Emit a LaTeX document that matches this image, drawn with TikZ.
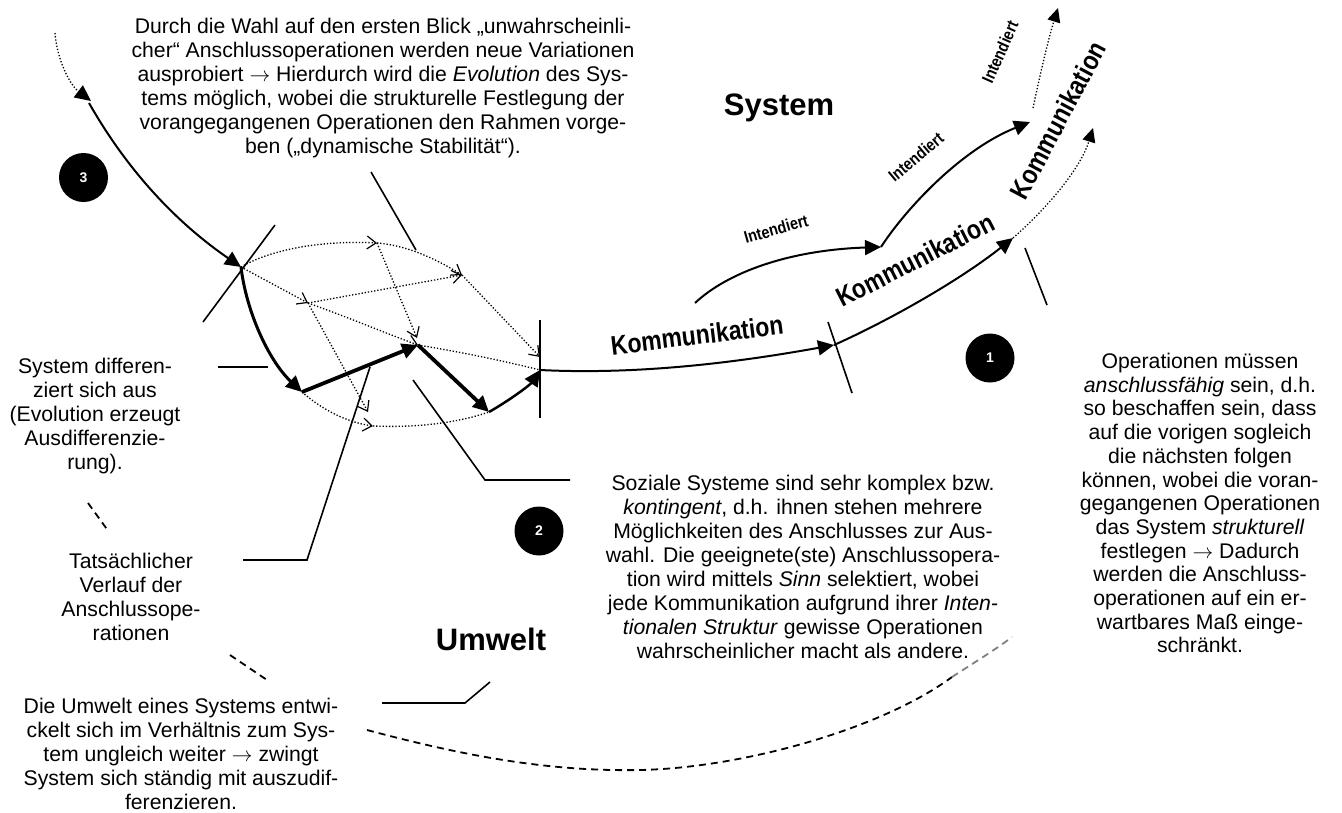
\documentclass[tikz,border=0pt]{standalone}
\usepackage{fontspec}
\setmainfont{Liberation Sans}
\newcommand\myarrow{$\rightarrow$}
\usetikzlibrary{arrows.meta}
\begin{document}
\begin{tikzpicture}[x=1pt,y=-1pt,
  txt/.style={align=center, inner sep=0pt, anchor=north, font=\fontsize{21.2}{24}\selectfont},
  lead/.style={line width=1.6pt},
  dotl/.style={line width=1.3pt, dash pattern=on 1.3pt off 1.9pt},
  dashl/.style={line width=1.8pt, dash pattern=on 7pt off 5pt},
  thk/.style={line width=3.8pt},
  fa/.style={-{Triangle[length=16pt,width=15pt]}},
  fas/.style={-{Triangle[length=14pt,width=13pt]}},
  oa/.style={-{Straight Barb[length=9pt,width=13pt,line width=1.2pt]}},
  num/.style={circle, fill=black, minimum size=49pt, inner sep=0pt, text=white, font=\fontsize{14}{14}\selectfont\bfseries},
  kom/.style={font=\fontsize{27}{27}\selectfont\bfseries, inner sep=0pt},
  intd/.style={font=\fontsize{17}{17}\selectfont\bfseries, inner sep=0pt},
  big/.style={font=\fontsize{31}{31}\selectfont\bfseries, inner sep=0pt, anchor=base}
]
\useasboundingbox[fill=white] (0,0) rectangle (1342,812);

% ---------- coordinates of the network ----------
\coordinate (TL) at (55,33);
\coordinate (TLe) at (91,101);
\coordinate (TLs) at (89,103);
\coordinate (A) at (241,267);
\coordinate (T1) at (377,243);
\coordinate (T2) at (462,275);
\coordinate (E) at (540,370);
\coordinate (Etop) at (540,357);
\coordinate (M1) at (308,303);
\coordinate (C) at (418,345);
\coordinate (Ctop) at (417,338);
\coordinate (D1) at (302,392);
\coordinate (D3) at (373,426);
\coordinate (D2) at (489,412);
\coordinate (Mdown) at (368,412);
\coordinate (K1) at (834,345);
\coordinate (K2) at (1013,238);
\coordinate (Ktop) at (1093,128);
\coordinate (Is) at (695,303);
\coordinate (I1) at (881,247);
\coordinate (I2) at (1030,122);
\coordinate (I3s) at (1033,108);
\coordinate (I3e) at (1058,8);

% ---------- ticks ----------
\coordinate (tA1) at (275,225); \coordinate (tA2) at (203,322);
\coordinate (tE1) at (540,320); \coordinate (tE2) at (540,418);
\coordinate (tK1) at (828,322); \coordinate (tK2) at (852,393);
\draw[lead] (tA1) -- (tA2);
\draw[lead] (tE1) -- (tE2);
\draw[lead] (tK1) -- (tK2);

% ---------- dotted possibilities ----------
\draw[dotl,oa] (A) .. controls (270,250) and (320,240) .. (T1);
\draw[dotl,oa] (T1) .. controls (405,245) and (435,258) .. (T2);
\draw[dotl,oa] (T2) -- (Etop);
\draw[dotl,oa] (A) -- (M1);
\draw[dotl,oa] (M1) -- (T2);
\draw[dotl,oa] (M1) .. controls (350,318) and (385,333) .. (C);
\draw[dotl,oa] (T1) -- (Ctop);
\draw[dotl] (C) .. controls (460,352) and (500,360) .. (E);
\draw[dotl,oa] (M1) -- (Mdown);
\draw[dotl,oa] (D1) .. controls (320,408) and (345,422) .. (D3);
\draw[dotl] (D3) .. controls (420,428) and (460,422) .. (D2);

% ---------- actual path ----------
\draw[dotl,-{Triangle[length=16pt,width=15pt]}] (TL) .. controls (57,60) and (70,85) .. (TLe);
\draw[line width=2pt,fa] (TLs) .. controls (130,175) and (180,225) .. (A);
\draw[line width=3pt,fa] (A) .. controls (246,310) and (268,360) .. (D1);
\draw[thk,fa] (D1) -- (C);
\draw[thk,fa] (C) -- (D2);
\draw[line width=2.5pt,fa] (D2) .. controls (510,400) and (530,385) .. (E);

% ---------- communication chain ----------
\draw[line width=2pt,fa] (E) .. controls (640,375) and (740,362) .. (K1);
\draw[line width=2pt,fa] (K1) .. controls (890,320) and (960,280) .. (K2);
\draw[dotl,fas] (K2) .. controls (1045,210) and (1080,170) .. (Ktop);
\draw[line width=2pt,fa] (Is) .. controls (728,272) and (790,250) .. (I1);
\draw[line width=2pt,fa] (I1) .. controls (905,210) and (960,150) .. (I2);
\draw[dotl,fas] (I3s) .. controls (1040,75) and (1048,40) .. (I3e);

\node[kom, rotate=7] (k1) at (697,335) {\scalebox{0.85}[1]{Kommunikation}};
\node[kom, rotate=27] (k2) at (915,260) {\scalebox{0.85}[1]{Kommunikation}};
\node[kom, rotate=62] (k3) at (1058,120) {\scalebox{0.85}[1]{Kommunikation}};
\node[intd, rotate=16] (i1) at (776,229) {\scalebox{0.85}[1]{Intendiert}};
\node[intd, rotate=40] (i2) at (916,157) {\scalebox{0.85}[1]{Intendiert}};
\node[intd, rotate=66] (i3) at (1000,52) {\scalebox{0.85}[1]{Intendiert}};

% ---------- environment boundary ----------
\coordinate (u1a) at (88,503); \coordinate (u1b) at (109,532);
\coordinate (u2a) at (230,655); \coordinate (u2b) at (267,680);
\coordinate (u3a) at (367,730); \coordinate (u3b) at (640,770);
\coordinate (u3c) at (952,677); \coordinate (u3d) at (1012,637);
\draw[dashl] (u1a) -- (u1b);
\draw[dashl] (u2a) -- (u2b);
\draw[dashl] (u3a) .. controls (450,752) and (540,772) .. (u3b)
  .. controls (740,768) and (880,730) .. (u3c);
\draw[dashl, gray] (u3c) .. controls (975,662) and (995,650) .. (u3d);

% ---------- labels ----------
\node[big] (sys) at (779,115) {System};
\node[big] (umw) at (491,650) {Umwelt};
\node[num] (n3) at (83.5,177.5) {3};
\node[num] (n1) at (990,358) {1};
\node[num] (n2) at (539,531) {2};

\node[txt] (t1) at (383,18) {Durch die Wahl auf den ersten Blick „unwahrscheinli-\\cher“ Anschlussoperationen werden neue Variationen\\ausprobiert \myarrow{} Hierdurch wird die \textit{Evolution} des Sys-\\tems möglich, wobei die strukturelle Festlegung der\\vorangegangenen Operationen den Rahmen vorge-\\ben („dynamische Stabilität“).};
\node[txt] (t2) at (95,358) {System differen-\\ziert sich aus\\(Evolution erzeugt\\Ausdifferenzie-\\rung).};
\node[txt] (t3) at (131,553) {Tatsächlicher\\Verlauf der\\Anschlussope-\\rationen};
\node[txt] (t4) at (181,698) {Die Umwelt eines Systems entwi-\\ckelt sich im Verhältnis zum Sys-\\tem ungleich weiter \myarrow{} zwingt\\System sich ständig mit auszudif-\\ferenzieren.};
\node[txt] (t5) at (803,475) {Soziale Systeme sind sehr komplex bzw.\\\textit{kontingent}, d.h. ihnen stehen mehrere\\Möglichkeiten des Anschlusses zur Aus-\\wahl. Die geeignete(ste) Anschlussopera-\\tion wird mittels \textit{Sinn} selektiert, wobei\\jede Kommunikation aufgrund ihrer \textit{Inten-}\\\textit{tionalen Struktur} gewisse Operationen\\wahrscheinlicher macht als andere.};
\node[txt, font=\fontsize{21.2}{23.7}\selectfont] (t6) at (1200,353) {Operationen müssen\\\textit{anschlussfähig} sein, d.h.\\so beschaffen sein, dass\\auf die vorigen sogleich\\die nächsten folgen\\können, wobei die voran-\\gegangenen Operationen\\das System \textit{strukturell}\\festlegen \myarrow{} Dadurch\\werden die Anschluss-\\operationen auf ein er-\\wartbares Maß einge-\\schränkt.};

% ---------- leader lines ----------
\coordinate (l1a) at (371,172); \coordinate (l1b) at (416,250);
\coordinate (l2a) at (218,367); \coordinate (l2b) at (268,367);
\coordinate (l3a) at (243,560); \coordinate (l3b) at (307,560); \coordinate (l3c) at (370,367);
\coordinate (l4a) at (413,380); \coordinate (l4b) at (485,480); \coordinate (l4c) at (570,480);
\coordinate (l5a) at (382,703); \coordinate (l5b) at (465,703); \coordinate (l5c) at (490,682);
\coordinate (l6a) at (1025,248); \coordinate (l6b) at (1047,305);
\draw[lead] (l1a) -- (l1b);
\draw[lead] (l2a) -- (l2b);
\draw[lead] (l3a) -- (l3b) -- (l3c);
\draw[lead] (l4a) -- (l4b) -- (l4c);
\draw[lead] (l5a) -- (l5b) -- (l5c);
\draw[lead] (l6a) -- (l6b);
\end{tikzpicture}
\end{document}
